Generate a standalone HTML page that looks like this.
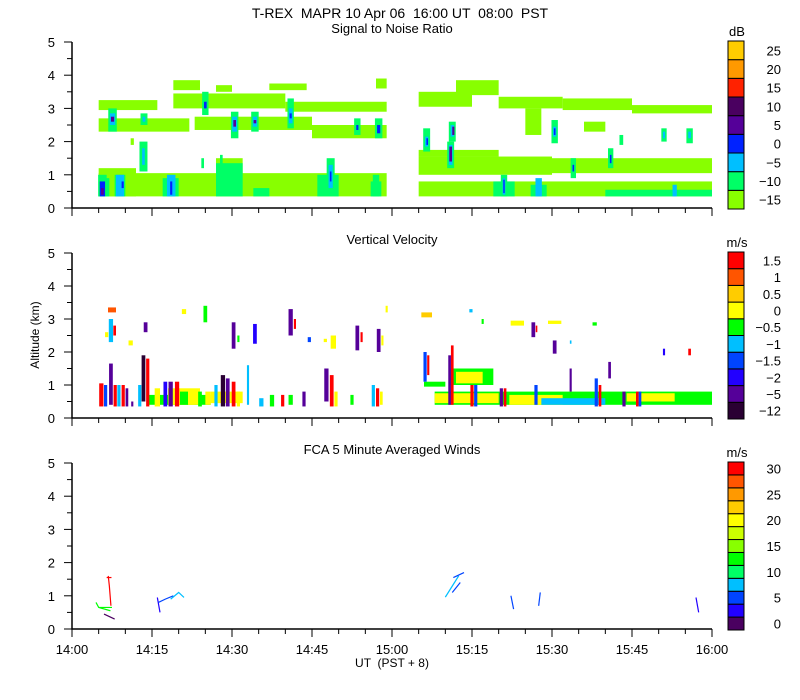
<!DOCTYPE html>
<html><head><meta charset="utf-8"><style>
body{margin:0;background:#fff;}
svg{display:block;font-family:"Liberation Sans",sans-serif;}
text{white-space:pre;}
</style></head><body>
<svg id="c" width="800" height="700" viewBox="0 0 800 700"></svg>
<script>
// ---- data ----
const panelTitles=["Signal to Noise Ratio","Vertical Velocity","FCA 5 Minute Averaged Winds"];
const unitLabels=["dB","m/s","m/s"];
const yTicks=[0,1,2,3,4,5];
const xTickLabels=["14:00","14:15","14:30","14:45","15:00","15:15","15:30","15:45","16:00"];
const snrLabels=["-15","-10","-5","0","5","10","15","20","25"];
const snrColors=["#88ff00","#00ff66","#00bfff","#0022ff","#550099","#4a0060","#ff2200","#ff9900","#ffcc00"];
const vvLabels=["-12","-5","-2","-1.5","-1","-0.5","0","0.5","1","1.5"];
const vvColors=["#2a0033","#550099","#2200ff","#0044ff","#00bfff","#00ff00","#ffff00","#ffcc00","#ff5500","#ff0000"];
const wsLabels=["0","","5","","10","","15","","20","","25","","30"];
const wsColors=["#4a0060","#2200ff","#0044ff","#00bfff","#00ff66","#00ff00","#88ff00","#ccff00","#ffff00","#ffcc00","#ff9900","#ff5500","#ff0000"];
// SNR layers: [t0(min), t1, z0(km), z1, level]
const snrLayers=[[5,59,0.35,1.05,0],[5,12,0.35,1.2,0],[27,32,0.35,1.5,0],[27,32,0.35,1.35,1],
[5,16,2.95,3.25,0],[19,40,3.0,3.45,0],[40,59,2.9,3.2,0],[5,22,2.3,2.7,0],[23,45,2.35,2.75,0],[45,59,2.1,2.5,0],
[19,24,3.55,3.85,0],[27,30,3.5,3.7,0],[37,44,3.55,3.75,0],[57,59,3.6,3.9,0],
[5,7,0.35,0.9,1],[8,10,0.35,1.0,1],[17,20,0.35,0.9,1],[46,50,0.35,1.0,1],[56,58,0.35,0.8,1],[34,37,0.35,0.6,1],
[65,120,0.35,0.8,0],[65,90,1.0,1.55,0],[90,120,1.05,1.5,0],[100,120,0.35,0.55,1],[65,80,1.55,1.75,0],
[65,75,3.05,3.5,0],[72,80,3.4,3.85,0],[80,92,3.0,3.35,0],[92,105,2.95,3.3,0],[105,120,2.85,3.1,0],
[85,88,2.2,3.0,0],[96,100,2.3,2.6,0],[79,83,0.35,0.8,1],[86,89,0.35,0.7,1]];
// SNR convective columns: [t, width(min), z0, z1, level]
const snrCols=[[5.7,1.6,0.35,1.0,1],[5.7,1.0,0.35,0.8,3],[5.7,0.5,0.4,0.6,4],[9,1.5,0.35,1.0,2],[9.5,0.4,0.6,0.8,3],[13.4,1.5,1.1,2.0,1],[13.4,0.5,1.3,1.8,2],[18.6,1.6,0.35,1.0,2],[18.6,0.4,0.4,0.8,3],
[7.6,1.6,2.3,3.0,1],[7.6,1,2.5,2.85,2],[7.6,0.6,2.6,2.75,4],[13.5,1.3,2.5,2.85,1],[13.5,0.5,2.6,2.75,2],[25,1.2,2.8,3.5,1],[25,0.5,3.0,3.2,3],
[30.5,1.4,2.1,2.9,1],[30.5,0.9,2.3,2.75,2],[30.5,0.5,2.45,2.65,4],[34.3,1.4,2.3,2.9,1],[34.3,0.8,2.45,2.75,2],[34.3,0.5,2.55,2.65,4],
[41,1.2,2.4,3.3,1],[41,0.7,2.55,3.0,2],[41,0.4,2.7,2.85,3],[48.5,1.5,0.4,1.5,1],[48.5,0.8,0.6,1.3,2],[48.5,0.3,0.8,1.1,3],[53.5,1.2,2.2,2.7,1],[53.5,0.4,2.35,2.5,3],[57.5,1.4,2.1,2.7,1],[57.5,0.6,2.25,2.5,3],[57,1.2,0.35,1.0,1],
[24.5,0.5,1.2,1.5,1],[28,0.5,1.3,1.6,1],[11.3,0.6,1.9,2.1,0],
[66.5,1.3,1.7,2.4,1],[66.5,0.6,1.85,2.15,2],[66.6,0.3,1.9,2.1,3],[71.3,1.3,2.0,2.6,1],[71.3,0.6,2.15,2.5,2],[71.5,0.4,2.2,2.45,4],[71,1.3,1.2,2.0,1],[71,0.7,1.3,1.9,2],[71,0.5,1.4,1.85,4],
[81,1.2,0.35,1.0,1],[81,0.5,0.4,0.9,2],[81,0.25,0.45,0.85,3],[87.5,1.2,0.35,0.9,2],[90.5,1.2,1.95,2.65,1],[90.5,0.6,2.15,2.45,2],[90.5,0.3,2.2,2.4,3],[94,1,0.9,1.5,1],[94,0.3,1.1,1.3,3],
[101,1,1.2,1.8,1],[101,0.3,1.35,1.6,3],[103,0.7,1.9,2.2,1],[111,1,2.0,2.4,1],[111,0.4,2.1,2.3,2],[115.8,1.2,1.95,2.4,1],[115.8,0.5,2.1,2.3,2],[113,0.8,0.35,0.7,2]];
// Vertical velocity streaks: [t, width(min), z0, z1, colorIdx]
const vvStreaks=[[5.5,0.8,0.35,1.05,9],[6.3,0.6,0.35,1.0,3],[7.3,0.7,0.4,1.65,1],[8.1,0.6,0.35,1.0,9],[8.8,0.6,0.35,1.0,4],[9.6,0.6,0.35,1.0,9],[10.3,0.5,0.35,0.9,1],
[11.3,0.4,0.35,0.5,1],[12.7,0.6,0.35,1.0,4],[13.4,0.7,0.5,1.9,0],[14.2,0.6,0.35,1.8,9],
[16,1,0.35,0.9,6],[17.5,0.7,0.35,1.1,2],[18.5,0.8,0.35,1.1,1],[19.7,0.8,0.35,1.1,9],[21,1.5,0.4,0.8,5],[22.5,1,0.4,0.7,6],[24,0.7,0.35,0.8,5],[25.5,1,0.4,0.8,6],
[27,0.6,0.35,1.0,4],[28.3,0.8,0.35,1.3,0],[29.2,0.7,0.35,1.2,1],[30.3,0.7,0.35,1.1,9],[31.2,0.6,0.35,0.8,6],[33,0.4,0.4,1.6,4],
[35.5,0.8,0.35,0.6,4],[37.5,0.8,0.35,0.7,5],[39.5,0.6,0.35,0.7,9],[41,0.8,0.4,0.7,5],[43.5,0.6,0.35,0.8,1],
[47.7,0.8,0.5,1.5,1],[48.7,0.7,0.35,1.3,9],[49.5,0.6,0.35,0.8,6],[52.5,0.6,0.4,0.7,5],
[56.5,0.6,0.35,1.0,4],[57.3,0.6,0.35,0.9,9],[58,0.5,0.4,0.8,6],
[6.5,0.6,2.45,2.6,6],[7.3,0.8,2.3,3.0,4],[8,0.5,2.5,2.8,9],[11,0.8,2.2,2.35,6],[13.8,0.7,2.6,2.9,1],[7.5,1.5,3.2,3.35,8],[21,0.8,3.15,3.3,6],[25,0.7,2.9,3.4,5],[30.3,0.7,2.1,2.9,1],[31.2,0.4,2.3,2.5,5],[34.3,0.7,2.25,2.85,2],[41,0.8,2.5,3.3,1],[41.8,0.4,2.7,3.0,9],[44.5,0.6,2.3,2.45,3],[47.5,0.6,2.3,2.4,6],[49,1,2.1,2.5,6],[53.5,0.7,2.05,2.8,1],[54.3,0.4,2.3,2.6,9],[57.5,0.7,2.0,2.7,1],[58.2,0.4,2.2,2.5,6],[59,0.4,3.2,3.4,6],
[66.5,2,3.05,3.2,7],[74.8,0.6,3.2,3.3,4],[77,0.4,2.85,3.0,5],[83.5,2.5,2.8,2.95,6],[90.5,2.5,2.85,2.95,6],[98,0.8,2.8,2.9,5],[86.5,0.7,2.45,2.9,1],[87.1,0.3,2.6,2.8,9],[90.5,0.7,1.95,2.35,1],[93.5,0.3,2.25,2.35,4],[111,0.4,1.9,2.1,2],[115.8,0.5,1.9,2.1,9],
[66.2,0.6,1.1,2.0,3],[66.8,0.4,1.3,1.9,9],[71.3,0.5,0.4,2.2,9],[70.8,0.5,0.4,1.9,1],[75,0.6,0.35,1.0,9],[75.7,0.6,0.35,1.0,3],[80.5,0.6,0.35,0.9,1],[81.2,0.5,0.35,0.9,9],[87,0.6,0.4,1.0,3],[93.5,0.4,0.8,1.5,1],[98.3,0.6,0.35,1.2,3],[99,0.5,0.35,1.0,9],[100.8,0.5,1.2,1.7,1],[103.5,0.6,0.35,0.8,1],[106,0.5,0.35,0.8,9],[106.5,0.5,0.35,0.8,3]];
// VV bands: [t0,t1,z0,z1,colorIdx]
const vvBands=[[71,79,1.0,1.5,5],[72,77,1.05,1.4,6],[66,70,0.95,1.1,5],[68,120,0.4,0.8,5],[68,80,0.45,0.75,6],[82,92,0.4,0.7,6],[104,113,0.5,0.75,6],[88,100,0.4,0.6,4],[14,26,0.4,0.7,5],[18,24,0.4,0.9,6],[26,32,0.45,0.8,6]];
// FCA wind segments: polyline points [t,z] ; colorIdx
const windLines=[[[[4.5,0.8],[5,0.65],[7.5,0.65]],5],[[[5,0.65],[7.2,0.55]],5],[[[6,0.45],[8,0.3]],0],[[[6.8,1.6],[7,1.3],[7.3,0.7]],12],[[[6.5,1.55],[7.4,1.55]],12],
[[[16,0.95],[16.5,0.5]],1],[[[16.2,0.8],[17.5,0.9],[19,1.0]],2],[[[18.5,0.9],[20,1.1],[21,0.95]],3],
[[[70,0.96],[72.5,1.6]],3],[[[71.5,1.55],[73.5,1.7]],2],[[[71.3,1.1],[72.8,1.4]],2],[[[82.3,1.0],[82.8,0.6]],2],[[[87.8,1.1],[87.5,0.7]],2],[[[117,0.95],[117.5,0.5]],1]];
// ---- drawing ----
const svg=document.getElementById('c');const NS='http://www.w3.org/2000/svg';
function mk(tag,attrs,parent){const e=document.createElementNS(NS,tag);for(const k in attrs)e.setAttribute(k,attrs[k]);(parent||svg).appendChild(e);return e;}
const X0=72,X1=712;const xs=t=>X0+t*(X1-X0)/120;
const panels=[{top:42,bot:208},{top:253,bot:418},{top:463,bot:629}];
function ys(p,z){return p.bot-z*(p.bot-p.top)/5;}
let t=mk('text',{x:400,y:18,'text-anchor':'middle','font-size':14});t.textContent="T-REX  MAPR 10 Apr 06  16:00 UT  08:00  PST";


panels.forEach((p,i)=>{
 const g=mk('g',{});
 
 
 const st=mk('text',{x:392,y:p.top-9,'text-anchor':'middle','font-size':13},g);st.textContent=panelTitles[i];
 
 
 if(i===0){
  snrLayers.forEach(l=>{const r=mk('rect',{x:xs(l[0]),y:ys(p,l[3]),width:xs(l[1])-xs(l[0]),height:ys(p,l[2])-ys(p,l[3]),fill:snrColors[l[4]]},g);
   });
  snrCols.forEach(c=>{const r=mk('rect',{x:xs(c[0]-c[1]/2),y:ys(p,c[3]),width:xs(c[1])-X0,height:ys(p,c[2])-ys(p,c[3]),fill:snrColors[c[4]]},g);
   });
 } else if(i===1){
  vvBands.forEach(l=>{const r=mk('rect',{x:xs(l[0]),y:ys(p,l[3]),width:xs(l[1])-xs(l[0]),height:ys(p,l[2])-ys(p,l[3]),fill:vvColors[l[4]]},g);
   });
  vvStreaks.forEach(c=>{const r=mk('rect',{x:xs(c[0]-c[1]/2),y:ys(p,c[3]),width:xs(c[1])-X0,height:ys(p,c[2])-ys(p,c[3]),fill:vvColors[c[4]]},g);
   });
 } else {
  windLines.forEach(w=>{const pl=mk('polyline',{points:w[0].map(q=>xs(q[0])+','+ys(p,q[1])).join(' '),fill:'none',stroke:wsColors[w[1]],'stroke-width':1.2},g);
   });
 }
 const ax=mk('path',{d:`M${X0},${p.top} V${p.bot} H${X1}`,stroke:'#000','stroke-width':1.5,fill:'none'},g);
 
 for(let k=0;k<=10;k++){const y=ys(p,k/2);mk('line',{x1:X0-(k%2?5:8),x2:X0,y1:y,y2:y,stroke:'#000','stroke-width':1},g);}
 yTicks.forEach(v=>{const tl=mk('text',{x:55,y:ys(p,v)+5,'text-anchor':'end','font-size':13},g);tl.textContent=v;
  });
 for(let k=0;k<=24;k++){const x=xs(k*5);mk('line',{x1:x,x2:x,y1:p.bot,y2:p.bot+(k%3?5:8),stroke:'#000','stroke-width':1},g);}
 if(i===2){xTickLabels.forEach((s,k)=>{const tl=mk('text',{x:xs(k*15),y:p.bot+25,'text-anchor':'middle','font-size':13},g);tl.textContent=s;
  });}
 const cols=[snrColors,vvColors,wsColors][i];const labs=[snrLabels,vvLabels,wsLabels][i];
 const cb=mk('g',{},g);
 const cTop=p.top-1,cBot=p.bot+1,h=(cBot-cTop)/cols.length;
 cols.forEach((c,k)=>{mk('rect',{x:728,y:cBot-(k+1)*h,width:16,height:h,fill:c,stroke:'#000','stroke-width':1},cb);
  if(labs[k]){const tl=mk('text',{x:781,y:cBot-(k+0.5)*h+5,'text-anchor':'end','font-size':13},cb);tl.textContent=labs[k].replace('-','\u2212');}});
 const ut=mk('text',{x:737,y:p.top-6,'text-anchor':'middle','font-size':13},cb);ut.textContent=unitLabels[i];
});
let a=mk('text',{x:39,y:335,'text-anchor':'middle','font-size':12,transform:'rotate(-90 39 335)'});a.textContent="Altitude (km)";

a=mk('text',{x:392,y:667,'text-anchor':'middle','font-size':12});a.textContent="UT  (PST + 8)";

</script>
</body></html>
